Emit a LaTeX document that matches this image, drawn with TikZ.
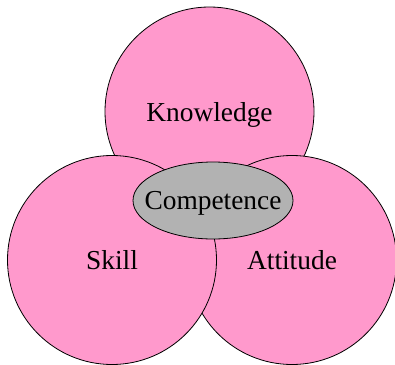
\documentclass[tikz,border=0pt]{standalone}
\usepackage{fontspec}
\setmainfont{Liberation Serif}
\usetikzlibrary{shapes.geometric}

\definecolor{vennpink}{RGB}{255,153,204}
\definecolor{coregray}{RGB}{178,178,178}

\tikzset{
  venn/.style={circle, minimum size=104.5pt, inner sep=0pt, text depth=0pt, draw=black, thin, fill=vennpink},
  core/.style={ellipse, minimum width=80pt, minimum height=38.5pt, inner sep=0pt, draw=black, thin, fill=coregray}
}

\begin{document}
\begin{tikzpicture}[x=0.5pt, y=-0.5pt, font=\fontsize{13.7}{16}\selectfont]

   \useasboundingbox (0,0) rectangle (395,364);

   \coordinate (ck) at (209.5,111.5);
   \coordinate (ca) at (292,260);
   \coordinate (cs) at (112,260);
   \coordinate (cc) at (213,200.5);

   %\draw (ck) circle [radius=104.5];
   \draw (ck) node[venn] (knowledge) {Knowledge};
   \draw (ca) node[venn] (attitude) {Attitude};
   \draw (cs) node[venn] (skill) {Skill};

   %\draw (cc) ellipse [x radius=80, y radius=38.5];
   \draw (cc) node[core, label={[text depth=0pt]center:Competence}] (competence) {};

\end{tikzpicture}
\end{document}
